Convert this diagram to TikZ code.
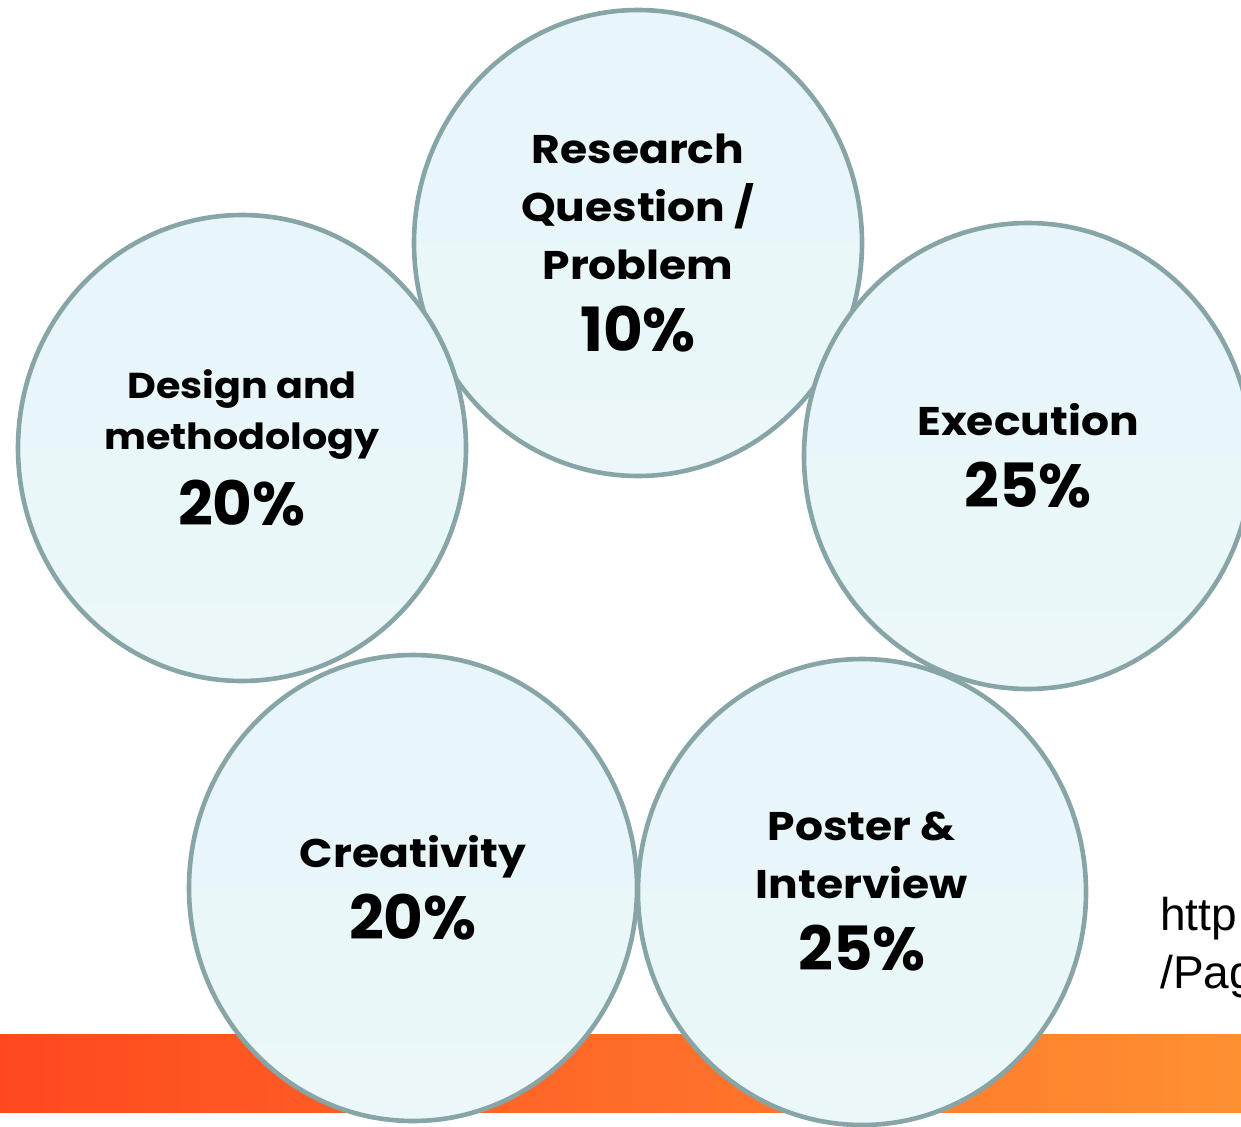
\documentclass[tikz,border=0pt]{standalone}
\usepackage{fontspec}
\setmainfont{Poppins}
\newfontfamily\widefont{Poppins}[FakeStretch=1.1]
\newfontfamily\arialfont{Liberation Sans}
\usetikzlibrary{shapes.geometric}
\definecolor{ringcol}{HTML}{87A5A7}
\definecolor{filltop}{HTML}{E8F6F9}
\definecolor{fillmid}{HTML}{DFF3F6}
\definecolor{fillbot}{HTML}{EBF7F9}
\definecolor{barleft}{HTML}{FF4820}
\definecolor{barright}{HTML}{FF9032}
\tikzset{
  bubble/.style={ellipse, draw=ringcol, line width=4.6pt, top color=filltop, middle color=fillmid, bottom color=fillbot,
    minimum width=448pt, minimum height=466pt, inner sep=0pt},
  lbl/.style={align=center, text=black, font=\widefont\bfseries\fontsize{40}{58}\selectfont, inner sep=0pt},
  lblsmall/.style={align=center, text=black, font=\widefont\bfseries\fontsize{36}{51}\selectfont, inner sep=0pt},
  urltext/.style={anchor=west, align=left, inner sep=0pt, font=\arialfont\fontsize{46}{58}\selectfont}
}
\newcommand{\pcttext}[1]{{\normalfont\bfseries\fontsize{61}{61}\selectfont #1}}
\begin{document}
\begin{tikzpicture}[x=1pt,y=-1pt]
\useasboundingbox (0,0) rectangle (1241,1126);
\clip (0,0) rectangle (1241,1126);
\fill[white] (0,0) rectangle (1241,1126);
\shade[left color=barleft, right color=barright] (0,1034) rectangle (1241,1112);
\node[urltext] (url) at (1160,948) {http\\/Pag};
\node[bubble] (top) at (638,243) {};
\node[bubble] (bl) at (413,888) {};
\node[bubble] (br) at (862,892) {};
\node[bubble] (left) at (242,448) {};
\node[bubble] (right) at (1028,456) {};
\node[lbl] (ttop) at (top) {Research\\Question /\\Problem\\[14pt]\pcttext{10\%}};
\node[lblsmall] (tleft) at (left) {Design and\\methodology\\[20pt]\pcttext{20\%}};
\node[lbl] (tright) at (right) {Execution\\[14pt]\pcttext{25\%}};
\node[lbl] (tbl) at (bl) {Creativity\\[14pt]\pcttext{20\%}};
\node[lbl] (tbr) at (br) {Poster \&\\Interview\\[14pt]\pcttext{25\%}};
\end{tikzpicture}
\end{document}
